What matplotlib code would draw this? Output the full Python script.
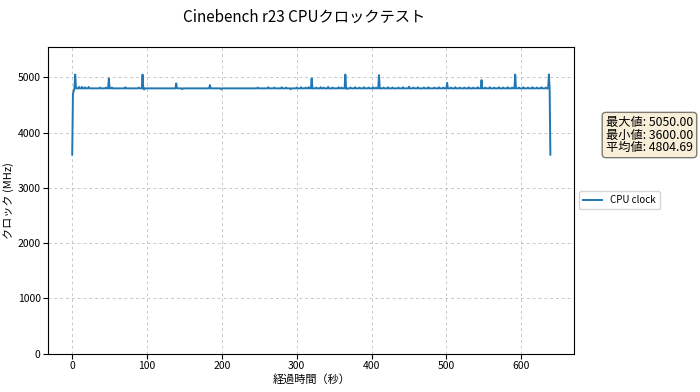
import matplotlib
matplotlib.use('Agg')
import matplotlib.pyplot as plt

plt.rcParams['font.family'] = ['Noto Sans CJK JP', 'DejaVu Sans']

# 経過時間 (秒)
times = [0, 1, 2, 3, 4, 5,
         8, 9, 10, 12, 13, 14, 16, 17, 18, 21, 22, 23,
         36, 37, 38, 44, 45, 46, 48, 49, 50, 52, 53, 54,
         70, 71, 72, 88, 89, 90, 93, 94, 95, 96, 97,
         138, 139, 140, 146, 147, 148, 183, 184, 185, 198, 199, 200,
         247, 248, 249, 261, 262, 263, 269, 270, 271, 279, 280, 281,
         285, 286, 287, 291, 292, 293, 299, 300, 301, 305, 306, 307,
         311, 312, 313, 315, 316, 317, 319, 320, 321,
         325, 326, 327, 331, 332, 333, 335, 336, 337, 341, 342, 343,
         347, 348, 349, 355, 356, 357, 359, 360, 361, 364, 365, 366, 367, 368,
         371, 372, 373, 377, 378, 379, 383, 384, 385, 389, 390, 391,
         395, 396, 397, 401, 402, 403, 405, 406, 407, 409, 410, 411,
         415, 416, 417, 421, 422, 423, 427, 428, 429, 435, 436, 437,
         441, 442, 443, 449, 450, 451, 455, 456, 457, 461, 462, 463,
         469, 470, 471, 475, 476, 477, 483, 484, 485, 489, 490, 491,
         495, 496, 497, 500, 501, 502,
         505, 506, 507, 511, 512, 513, 517, 518, 519, 523, 524, 525,
         529, 530, 531, 535, 536, 537, 541, 542, 543, 546, 547, 548,
         551, 552, 553, 557, 558, 559, 563, 564, 565, 569, 570, 571,
         575, 576, 577, 581, 582, 583, 587, 588, 589, 591, 592, 593,
         596, 597, 598, 602, 603, 604, 608, 609, 610, 614, 615, 616,
         620, 621, 622, 626, 627, 628, 632, 633, 634, 636, 637, 638, 639]

# クロック (MHz)
clocks = [3600, 4700, 4750, 4800, 5050, 4800,
          4800, 4825, 4800, 4800, 4825, 4800, 4800, 4820, 4800, 4800, 4825, 4800,
          4800, 4815, 4800, 4800, 4815, 4800, 4800, 4980, 4800, 4800, 4815, 4800,
          4800, 4820, 4800, 4800, 4815, 4800, 4800, 5050, 4800, 4780, 4800,
          4800, 4890, 4800, 4800, 4785, 4800, 4800, 4860, 4800, 4800, 4785, 4800,
          4800, 4815, 4800, 4800, 4820, 4800, 4800, 4815, 4800, 4800, 4820, 4800,
          4800, 4815, 4800, 4800, 4785, 4800, 4800, 4815, 4800, 4800, 4820, 4800,
          4800, 4815, 4800, 4800, 4820, 4800, 4800, 4980, 4800,
          4800, 4815, 4800, 4800, 4820, 4800, 4800, 4815, 4800, 4800, 4825, 4800,
          4800, 4815, 4800, 4800, 4820, 4800, 4800, 4815, 4800, 4800, 5050, 4800, 4790, 4800,
          4800, 4815, 4800, 4800, 4820, 4800, 4800, 4815, 4800, 4800, 4820, 4800,
          4800, 4815, 4800, 4800, 4820, 4800, 4800, 4815, 4800, 4800, 5040, 4800,
          4800, 4815, 4800, 4800, 4820, 4800, 4800, 4815, 4800, 4800, 4815, 4800,
          4800, 4820, 4800, 4800, 4830, 4800, 4800, 4815, 4800, 4800, 4820, 4800,
          4800, 4815, 4800, 4800, 4820, 4800, 4800, 4815, 4800, 4800, 4820, 4800,
          4800, 4815, 4800, 4800, 4900, 4800,
          4800, 4815, 4800, 4800, 4820, 4800, 4800, 4815, 4800, 4800, 4815, 4800,
          4800, 4820, 4800, 4800, 4815, 4800, 4800, 4820, 4800, 4800, 4950, 4800,
          4800, 4815, 4800, 4800, 4820, 4800, 4800, 4815, 4800, 4800, 4820, 4800,
          4800, 4815, 4800, 4800, 4820, 4800, 4800, 4815, 4800, 4800, 5050, 4800,
          4800, 4815, 4800, 4800, 4820, 4800, 4800, 4815, 4800, 4800, 4820, 4800,
          4800, 4815, 4800, 4800, 4820, 4800, 4800, 4815, 4800, 4800, 5050, 4800, 3600]

stats_text = '最大値: 5050.00\n最小値: 3600.00\n平均値: 4804.69'

fig, ax = plt.subplots(figsize=(7, 3.92), dpi=100)
fig.subplots_adjust(left=0.069, right=0.8204, top=0.881, bottom=0.098)

ax.plot(times, clocks, color='#1f77b4', lw=1.4, label='CPU clock')
ax.set_ylim(0, max(clocks) * 1.1)
ax.grid(True, linestyle=(0, (3, 3)), linewidth=0.7, color='#b0b0b0', alpha=0.7)
ax.tick_params(labelsize=7.5, pad=2)

ax.set_xlabel('経過時間（秒）', fontsize=8, labelpad=2)
ax.set_ylabel('クロック (MHz)', fontsize=8)
ax.yaxis.set_label_coords(-0.066, 0.5)
fig.text(0.435, 0.955, 'Cinebench r23 CPUクロックテスト', ha='center', va='center', fontsize=11)

ax.legend(loc='center left', bbox_to_anchor=(1.0, 0.5), fontsize=7)
ax.text(1.06, 0.774, stats_text, transform=ax.transAxes, va='top', fontsize=8.8,
        linespacing=0.95,
        bbox=dict(boxstyle='round', facecolor='wheat', alpha=0.5))

fig.savefig('out.png')
